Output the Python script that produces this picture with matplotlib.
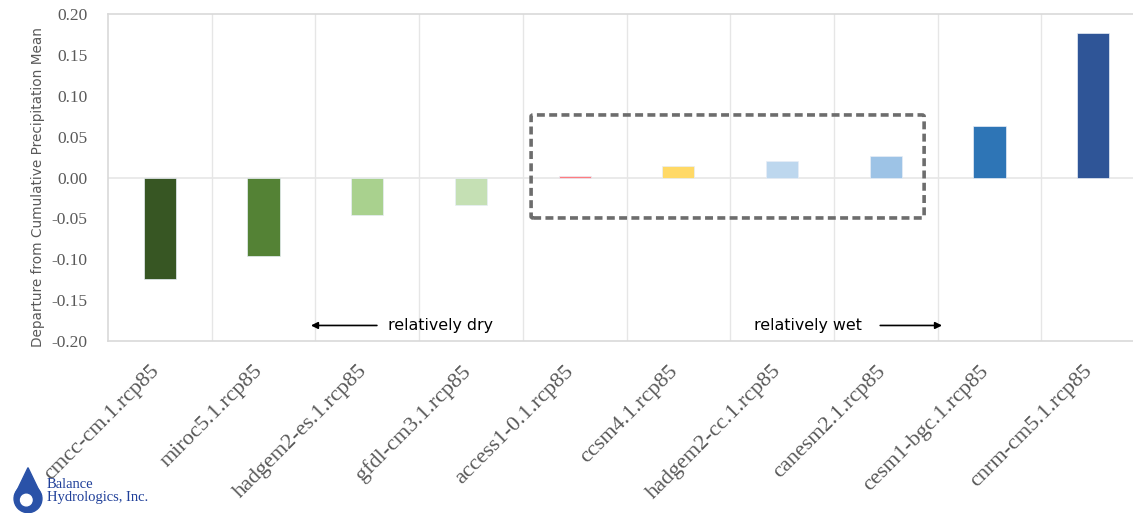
import numpy as np
import matplotlib.pyplot as plt
from matplotlib.patches import FancyBboxPatch, Polygon, Circle
from matplotlib.transforms import ScaledTranslation

# Data
models = ['cmcc-cm.1.rcp85', 'miroc5.1.rcp85', 'hadgem2-es.1.rcp85', 'gfdl-cm3.1.rcp85',
          'access1-0.1.rcp85', 'ccsm4.1.rcp85', 'hadgem2-cc.1.rcp85', 'canesm2.1.rcp85',
          'cesm1-bgc.1.rcp85', 'cnrm-cm5.1.rcp85']
departure = [-0.124, -0.096, -0.046, -0.034, 0.0015, 0.014, 0.020, 0.026, 0.063, 0.177]
bar_colors = ['#375623', '#548235', '#a9d18e', '#c5e0b4', '#ff7c80',
              '#ffd966', '#bdd7ee', '#9dc3e6', '#2e75b6', '#2f5597']
yticks = [0.20, 0.15, 0.10, 0.05, 0.00, -0.05, -0.10, -0.15, -0.20]

fig = plt.figure(figsize=(11.33, 5.14), dpi=100)
ax = fig.add_axes([108 / 1133, 1 - 341 / 514, 1037 / 1133, 327 / 514])

x = np.arange(len(models))
ax.bar(x, departure, width=0.31, color=bar_colors, edgecolor='#e8eef6', linewidth=0.5, zorder=3)

ax.set_xlim(-0.5, len(models) - 0.5)
ax.set_ylim(-0.20, 0.20)

# grid: vertical lines between categories, horizontal at zero
for b in np.arange(0.5, len(models) - 0.5, 1):
    ax.axvline(b, color='#e6e6e6', lw=1, zorder=1)
ax.axhline(0, color='#e6e6e6', lw=1.2, zorder=1)

for s in ax.spines.values():
    s.set_color('#d9d9d9')
    s.set_linewidth(1.2)

ax.set_yticks(yticks)
ax.set_yticklabels(['%.2f' % v for v in yticks], family='Liberation Serif',
                   fontsize=12.5, color='#595959')
ax.set_xticks(x)
ax.set_xticklabels(models, rotation=45, ha='right', rotation_mode='anchor',
                   family='Liberation Serif', fontsize=16, color='#595959')
ax.tick_params(length=0)
ax.tick_params(axis='y', pad=15)
ax.tick_params(axis='x', pad=12)
shift = ScaledTranslation(-10 / 100, -4 / 100, fig.dpi_scale_trans)
for lbl in ax.get_xticklabels():
    lbl.set_transform(lbl.get_transform() + shift)

ax.set_ylabel('Departure from Cumulative Precipitation Mean', fontsize=9.8,
              color='#595959')
ax.yaxis.set_label_coords(-0.061, 0.47)

# dashed box around near-zero models
box = FancyBboxPatch((3.58, -0.0495), 3.79, 0.126, boxstyle='round,pad=0,rounding_size=0.02',
                     fill=False, edgecolor='#6d6d6d', linestyle=(0, (2.2, 1.2)),
                     linewidth=2.6, zorder=4, mutation_aspect=0.1)
ax.add_patch(box)

# annotations
ax.text(2.2, -0.181, 'relatively dry', fontsize=11.4, va='center', ha='left', color='black')
ax.annotate('', xy=(1.43, -0.181), xytext=(2.12, -0.181),
            arrowprops=dict(arrowstyle='-|>', color='black', lw=1.2))
ax.text(5.73, -0.181, 'relatively wet', fontsize=11.4, va='center', ha='left', color='black')
ax.annotate('', xy=(7.57, -0.181), xytext=(6.92, -0.181),
            arrowprops=dict(arrowstyle='-|>', color='black', lw=1.2))

# company logo
fig.text(47 / 1133, 1 - 491 / 514, 'Balance\nHydrologics, Inc.', family='Liberation Serif',
         fontsize=10.5, color='#1f3f99', va='center', ha='left', linespacing=1.0)
drop_ax = fig.add_axes([11 / 1133, 1 - 513 / 514, 34 / 1133, 46 / 514])
drop_ax.set_xlim(0, 1)
drop_ax.set_ylim(0, 1.35)
drop_ax.axis('off')
drop_ax.add_patch(Polygon([[0.5, 1.33], [0.1, 0.5], [0.9, 0.5]], closed=True,
                          color='#2a52a8'))
drop_ax.add_patch(Circle((0.5, 0.42), 0.41, color='#2a52a8'))
drop_ax.add_patch(Circle((0.45, 0.38), 0.17, color='white'))

fig.savefig('out.png', dpi=100)
